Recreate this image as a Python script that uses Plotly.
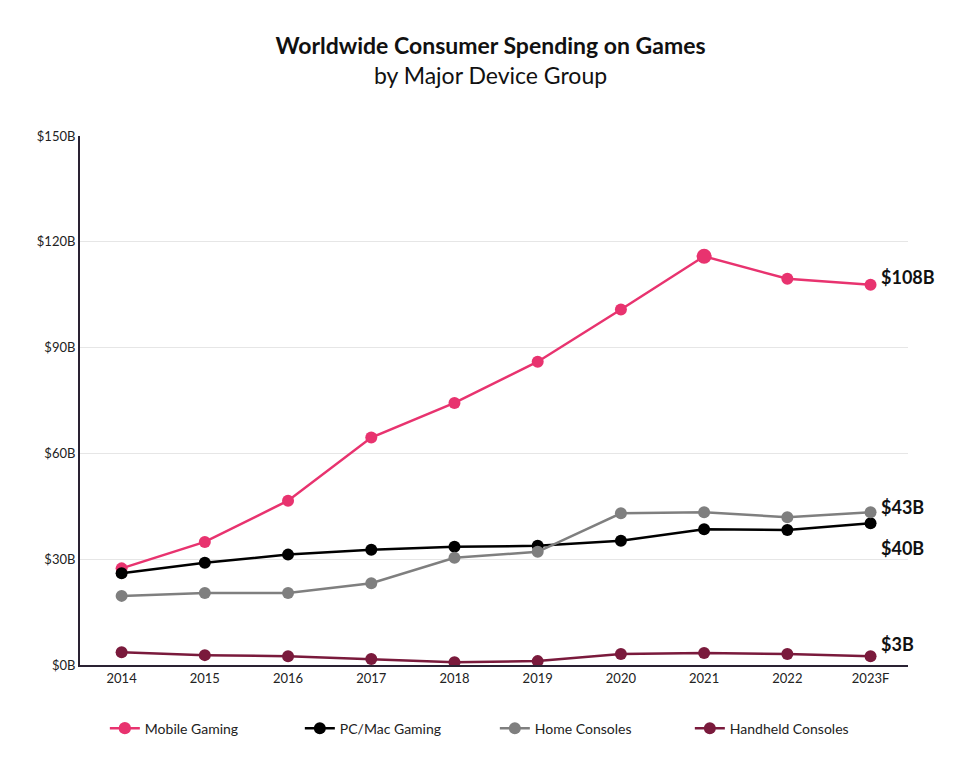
import plotly.graph_objects as go

years = ["2014","2015","2016","2017","2018","2019","2020","2021","2022","2023F"]
mobile = [27.4,34.9,46.6,64.5,74.3,86.0,100.8,115.9,109.5,107.8]
pc = [26.0,29.0,31.3,32.7,33.5,33.8,35.2,38.5,38.3,40.2]
home = [19.6,20.4,20.4,23.2,30.4,32.1,43.0,43.3,41.9,43.3]
handheld = [3.6,2.8,2.5,1.7,0.8,1.1,3.1,3.4,3.1,2.5]
names = ["Mobile Gaming","PC/Mac Gaming","Home Consoles","Handheld Consoles"]
colors = ["#e8336f","#000000","#7f7f7f","#7a1a3c"]
end_labels = ["$108B","$40B","$43B","$3B"]
yticks = [0,30,60,90,120,150]
ytext = ["$0B","$30B","$60B","$90B","$120B","$150B"]

fig = go.Figure()
for n, v, c in zip(names, [mobile, pc, home, handheld], colors):
    sizes = [12]*len(v)
    if n == "Mobile Gaming":
        sizes[7] = 15
    fig.add_trace(go.Scatter(x=years, y=v, name=n, mode="lines+markers",
                             line=dict(color=c, width=2.5),
                             marker=dict(color=c, size=sizes, opacity=1, line=dict(width=0))))
offs = [8, -25, 5, 12]
for v, lab, o in zip([mobile, pc, home, handheld], end_labels, offs):
    fig.add_annotation(x=years[-1], y=v[-1], text="<b>"+lab+"</b>", showarrow=False,
                       xanchor="left", xshift=8, yshift=o, font=dict(size=18, color="#111"))

fig.update_layout(
    width=965, height=767, plot_bgcolor="white", paper_bgcolor="white",
    font=dict(family="Lato", color="#222"),
    title=dict(text="<b>Worldwide Consumer Spending on Games</b><br>by Major Device Group",
               x=0.5, xanchor="center", y=0.94, font=dict(size=23, color="#111")),
    margin=dict(l=72, r=65, t=128, b=110),
    xaxis=dict(showline=True, linecolor="#2a2233", linewidth=2, tickfont=dict(size=13),
               showgrid=False, range=[-0.5, 9.45]),
    yaxis=dict(range=[0,150], tickvals=yticks, ticktext=ytext, showline=True,
               linecolor="#2a2233", linewidth=2, gridcolor="#e6e6e6", tickfont=dict(size=13),
               ticks="", zeroline=False),
    legend=dict(orientation="h", x=0.03, xanchor="left", y=-0.09, yanchor="top",
                font=dict(size=14), entrywidth=150, traceorder="normal"),
)
fig.write_html("out.html")
